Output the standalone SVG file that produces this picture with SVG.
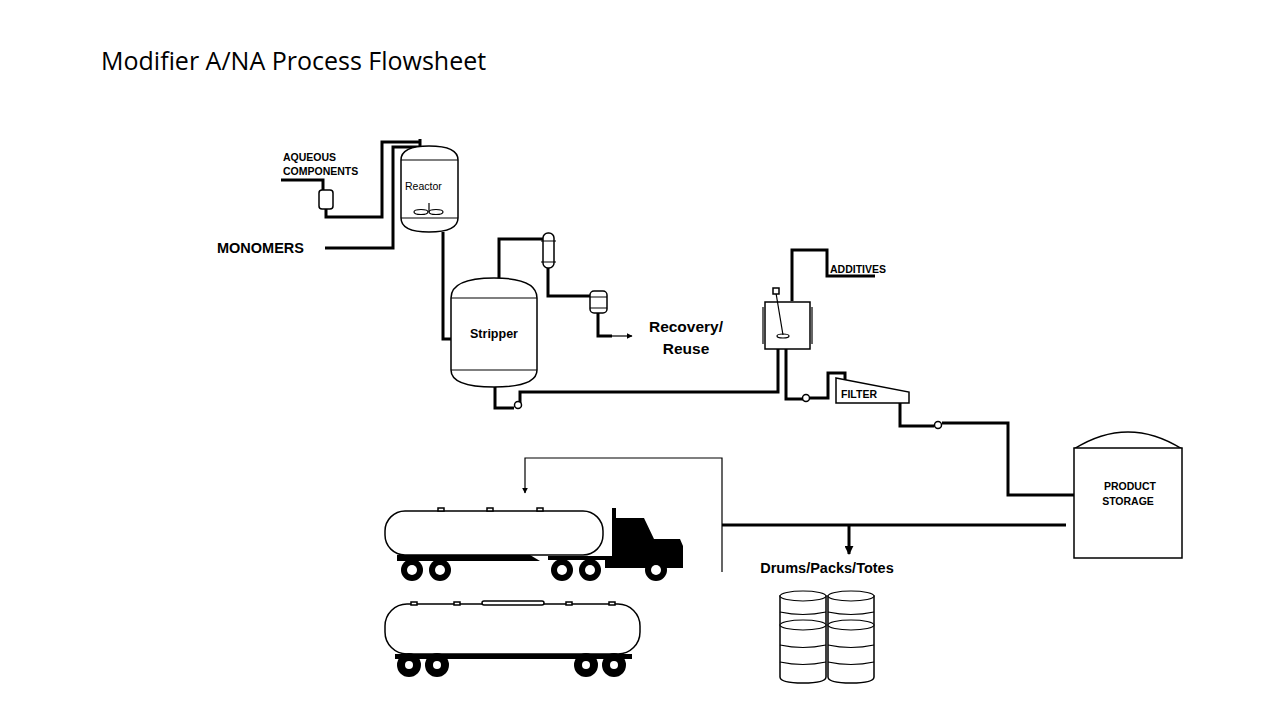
<svg xmlns="http://www.w3.org/2000/svg" width="1280" height="720" viewBox="0 0 1280 720">
<style>
.p{fill:none;stroke:#000;stroke-width:3}
.t{fill:none;stroke:#000;stroke-width:1.2}
.v{fill:#fff;stroke:#000;stroke-width:1.5}
.b{font-family:"Liberation Sans",Arial,sans-serif;font-weight:bold;fill:#000}
.w{fill:#000}
.h{fill:#fff}
</style>
<defs>
<marker id="a" viewBox="0 0 10 10" refX="9" refY="5" markerWidth="5" markerHeight="5" orient="auto"><path d="M0,0L10,5L0,10z"/></marker>
<marker id="s" viewBox="0 0 10 10" refX="9" refY="5" markerWidth="3" markerHeight="3" orient="auto"><path d="M0,0L10,5L0,10z"/></marker>
</defs>
<rect width="1280" height="720" fill="#fff"/>
<text x="101" y="70" font-family="'Open Sans','Liberation Sans',sans-serif" font-size="25">Modifier A/NA Process Flowsheet</text>

<g id="connectors">
<path class="p" d="M281,180H323V190M326,209V217H382V142H420"/>
<path class="p" d="M325,248H393V147H420M420,139V152"/>
<path class="p" d="M443,232V339H452"/>
<path class="p" d="M499,279V239H548M548,268V296H598V292M598,313V336H612"/>
<path class="t" d="M612,336H632" stroke-width="2" marker-end="url(#a)"/>
<path class="p" d="M495,387V408H514M520,405V392H778V349"/>
<path class="p" d="M792,301V250H827V276H875"/>
<path class="p" d="M786,349V399H803M810,398H828V373H845V380"/>
<path class="p" d="M900,403V426H934M942,423H1008V495H1074"/>
<path class="p" d="M722,525H1066"/>
<path class="t" d="M722,572V458H525V493" marker-end="url(#a)"/>
<path class="p" d="M849,525V554" marker-end="url(#s)"/>
<circle cx="518" cy="405" r="3.5" class="v"/>
<circle cx="806" cy="398" r="3.5" class="v"/>
<circle cx="938" cy="425" r="3.5" class="v"/>
</g>

<g id="aqueous">
<text class="b" x="283" y="161" font-size="10.5">AQUEOUS</text>
<text class="b" x="283" y="175" font-size="10.5">COMPONENTS</text>
<rect class="v" x="319" y="190" width="14" height="19" rx="3"/>
</g>
<g id="monomers"><text class="b" x="217" y="253" font-size="14.5">MONOMERS</text></g>

<g id="reactor">
<path class="v" d="M401,160Q401,146 429,146Q458,146 458,160V218Q458,232 429,232Q401,232 401,218Z"/>
<path class="t" d="M401,160H458M401,218H458"/>
<text x="405" y="190" font-family="'Liberation Sans',sans-serif" font-size="10.5">Reactor</text>
<path class="t" d="M429,203V212" stroke-width="2"/>
<ellipse class="t" cx="421" cy="212" rx="7" ry="2.5"/>
<ellipse class="t" cx="436" cy="212" rx="7" ry="2.5"/>
</g>

<g id="stripper">
<path class="v" d="M451,298Q451,278 494,278Q537,278 537,298V370Q537,387 494,387Q451,387 451,370Z"/>
<path class="t" d="M451,298H537M451,370H537"/>
<text class="b" x="494" y="338" font-size="12.5" text-anchor="middle">Stripper</text>
</g>

<g id="condenser">
<rect class="v" x="543" y="233" width="11" height="35" rx="5"/>
<path class="t" d="M541,241H556M541,262H556" stroke-width="2"/>
<rect class="v" x="590" y="291" width="17" height="22" rx="4"/>
<path class="t" d="M590,297H607M590,308H607"/>
</g>
<g id="recovery">
<text class="b" x="686" y="332" font-size="15.5" text-anchor="middle">Recovery/</text>
<text class="b" x="686" y="354" font-size="15.5" text-anchor="middle">Reuse</text>
</g>

<g id="mixer">
<rect class="v" x="765" y="302" width="45" height="47"/>
<path class="t" d="M763,307V344M812,307V344" stroke-width="2"/>
<path class="t" d="M776,293L783,335"/>
<rect class="v" x="773" y="288" width="6" height="6"/>
<ellipse class="t" cx="783" cy="336" rx="6" ry="2"/>
<text class="b" x="830" y="273" font-size="10.5">ADDITIVES</text>
</g>

<g id="filter">
<path class="v" d="M836,378L909,392V403H836Z" stroke-width="2.5"/>
<text class="b" x="841" y="398" font-size="10.5">FILTER</text>
</g>

<g id="storage">
<path class="v" d="M1074,449Q1128,415 1182,449"/>
<rect class="v" x="1074" y="448" width="108" height="110"/>
<text class="b" x="1130" y="490" font-size="10.5" text-anchor="middle">PRODUCT</text>
<text class="b" x="1128" y="505" font-size="10.5" text-anchor="middle">STORAGE</text>
</g>

<g id="drums">
<text class="b" x="827" y="573" font-size="14.5" text-anchor="middle">Drums/Packs/Totes</text>
<path class="v" d="M780,596V677Q780,683 803,683Q826,683 826,677V596Z"/>
<path class="v" d="M828,596V677Q828,683 851,683Q874,683 874,677V596Z"/>
<g class="t" stroke-width="1.5">
<ellipse cx="803" cy="596" rx="23" ry="5" fill="#fff"/><ellipse cx="851" cy="596" rx="23" ry="5" fill="#fff"/>
<path d="M780,612Q803,617 826,612M828,612Q851,617 874,612"/>
<ellipse cx="803" cy="625" rx="23" ry="5" fill="#fff"/><ellipse cx="851" cy="625" rx="23" ry="5" fill="#fff"/>
<path d="M780,645Q803,650 826,645M828,645Q851,650 874,645M780,662Q803,667 826,662M828,662Q851,667 874,662"/>
</g>
</g>

<g id="truck">
<rect class="v" x="385" y="511" width="218" height="44" rx="20" stroke-width="1"/>
<rect class="v" x="438" y="508" width="6" height="3" stroke-width="1"/>
<rect class="v" x="487" y="508" width="6" height="3" stroke-width="1"/>
<rect class="v" x="537" y="508" width="6" height="3" stroke-width="1"/>
<path class="w" d="M397,555H530L540,561H397Z"/>
<path class="w" d="M548,556H612V508H616V518H644L654,539H680L683,546V568H605V560H548Z"/>
<g class="w"><circle cx="412" cy="570" r="11"/><circle cx="440" cy="570" r="11"/><circle cx="562" cy="570" r="11"/><circle cx="590" cy="570" r="11"/><circle cx="656" cy="570" r="11"/></g>
<g class="h"><circle cx="412" cy="570" r="5"/><circle cx="440" cy="570" r="5"/><circle cx="562" cy="570" r="5"/><circle cx="590" cy="570" r="5"/><circle cx="656" cy="570" r="5"/></g>
</g>

<g id="railcar">
<rect class="v" x="385" y="604" width="255" height="50" rx="22" stroke-width="1"/>
<rect class="v" x="482" y="601" width="62" height="4" rx="2" stroke-width="1"/>
<rect class="v" x="411" y="602" width="6" height="3" stroke-width="1"/>
<rect class="v" x="454" y="602" width="6" height="3" stroke-width="1"/>
<rect class="v" x="566" y="602" width="6" height="3" stroke-width="1"/>
<rect class="v" x="609" y="602" width="6" height="3" stroke-width="1"/>
<path class="w" d="M395,654H632V659H395Z"/>
<g class="w"><circle cx="409" cy="665" r="12"/><circle cx="437" cy="665" r="12"/><circle cx="586" cy="665" r="12"/><circle cx="614" cy="665" r="12"/></g>
<g class="h"><circle cx="409" cy="665" r="4"/><circle cx="437" cy="665" r="4"/><circle cx="586" cy="665" r="4"/><circle cx="614" cy="665" r="4"/></g>
</g>
</svg>
